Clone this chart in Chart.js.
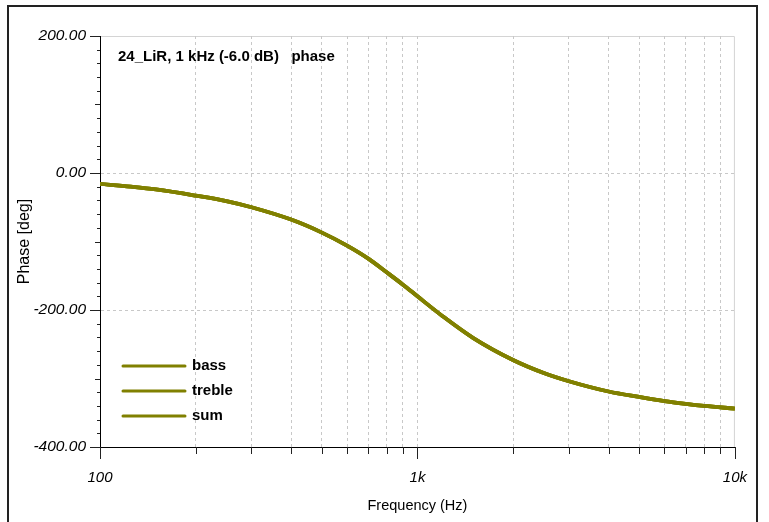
<!DOCTYPE html>
<html>
<head>
<meta charset="utf-8">
<script src="https://cdn.jsdelivr.net/npm/chart.js@4.4.1/dist/chart.umd.min.js"></script>
<style>
  body { margin: 0; background: #fff; }
</style>
</head>
<body>
<canvas id="phase" width="769" height="522"></canvas>
<script>
// frequency points (Hz)
var freq = [100, 125, 150, 200, 250, 300, 400, 500, 600, 700, 800, 900,
            1000, 1200, 1500, 2000, 2500, 3000, 4000, 5000, 6000, 7000, 8000, 10000];

// phase in degrees, the three traces sit on top of each other
var bass   = [-16, -20, -24, -33, -41, -50, -68, -87, -106, -125, -145, -163,
              -180, -209, -241, -273, -292, -304, -319, -327, -333, -337, -340, -344];
var treble = [-16, -20, -24, -33, -41, -50, -68, -87, -106, -125, -145, -163,
              -180, -209, -241, -273, -292, -304, -319, -327, -333, -337, -340, -344];
var sum    = [-16, -20, -24, -33, -41, -50, -68, -87, -106, -125, -145, -163,
              -180, -209, -241, -273, -292, -304, -319, -327, -333, -337, -340, -344];

var seriesNames = ["bass", "treble", "sum"];
var xTicks = [100, 200, 300, 400, 500, 600, 700, 800, 900,
              1000, 2000, 3000, 4000, 5000, 6000, 7000, 8000, 9000, 10000];
var xLabels = { 100: "100", 1000: "1k", 10000: "10k" };
var yMin = -400, yMax = 200, yStep = 20;

var olive = "#808000";
var fontFam = "'Liberation Sans', Arial, sans-serif";

function pts(arr) {
  return freq.map(function (f, i) { return { x: f, y: arr[i] }; });
}

// outer frame + light plot border
var frame = {
  id: "frame",
  beforeDraw: function (chart) {
    var ctx = chart.ctx, a = chart.chartArea;
    ctx.save();
    ctx.fillStyle = "#fff";
    ctx.fillRect(0, 0, chart.width, chart.height);
    ctx.strokeStyle = "#222";
    ctx.lineWidth = 2;
    ctx.strokeRect(8, 6, 749, 540);
    ctx.strokeStyle = "#d4d4d4";
    ctx.lineWidth = 1;
    ctx.beginPath();
    ctx.moveTo(a.left, a.top + 0.5);
    ctx.lineTo(a.right - 0.5, a.top + 0.5);
    ctx.lineTo(a.right - 0.5, a.bottom);
    ctx.stroke();
    ctx.restore();
  }
};

// tick marks, major longer than minor
var tickMarks = {
  id: "tickMarks",
  afterDraw: function (chart) {
    var ctx = chart.ctx, xs = chart.scales.x, ys = chart.scales.y;
    ctx.save();
    ctx.strokeStyle = "#222";
    ctx.lineWidth = 1;
    ctx.beginPath();
    xs.ticks.forEach(function (t) {
      var px = Math.round(xs.getPixelForValue(t.value)) + 0.5;
      var len = xLabels[t.value] ? 12 : 7;
      ctx.moveTo(px, xs.top);
      ctx.lineTo(px, xs.top + len);
    });
    ys.ticks.forEach(function (t) {
      var py = Math.round(ys.getPixelForValue(t.value)) + 0.5;
      var len = t.value % 200 === 0 ? 10 : (t.value % 100 === 0 ? 5 : 3);
      ctx.moveTo(ys.right - len, py);
      ctx.lineTo(ys.right, py);
    });
    ctx.stroke();
    ctx.restore();
  }
};

// caption and legend drawn inside the plot
var inside = {
  id: "inside",
  afterDraw: function (chart) {
    var ctx = chart.ctx, a = chart.chartArea;
    ctx.save();
    ctx.fillStyle = "#000";
    ctx.font = "bold 15px " + fontFam;
    ctx.textBaseline = "middle";
    ctx.fillText("24_LiR, 1 kHz (-6.0 dB)   phase", a.left + 18, a.top + 21);
    chart.data.datasets.forEach(function (ds, i) {
      var y = a.bottom - 31 - (chart.data.datasets.length - 1 - i) * 25;
      ctx.strokeStyle = ds.borderColor;
      ctx.lineWidth = 3;
      ctx.lineCap = "round";
      ctx.beginPath();
      ctx.moveTo(a.left + 23, y);
      ctx.lineTo(a.left + 85, y);
      ctx.stroke();
      ctx.fillText(ds.label, a.left + 92, y);
    });
    ctx.restore();
  }
};

new Chart("phase", {
  type: "line",
  data: {
    datasets: [bass, treble, sum].map(function (arr, i) {
      return {
        label: seriesNames[i],
        data: pts(arr),
        borderColor: olive,
        borderWidth: 3.8,
        pointRadius: 0,
        cubicInterpolationMode: "monotone",
        fill: false
      };
    })
  },
  options: {
    responsive: false,
    animation: false,
    devicePixelRatio: 1,
    layout: { padding: { left: 0, top: 36, right: 31, bottom: 0 } },
    plugins: { legend: { display: false }, tooltip: { enabled: false } },
    scales: {
      x: {
        type: "logarithmic",
        min: 100,
        max: 10000,
        afterBuildTicks: function (s) {
          s.ticks = xTicks.map(function (v) { return { value: v }; });
        },
        afterFit: function (s) { s.height = 75; },
        ticks: {
          autoSkip: false,
          maxRotation: 0,
          padding: 22,
          color: "#000",
          font: { family: fontFam, size: 15, style: "italic" },
          callback: function (v) { return xLabels[v] || ""; }
        },
        grid: {
          drawTicks: false,
          color: function (c) {
            var v = c.tick && c.tick.value;
            return (v === 100 || v === 10000) ? "rgba(0,0,0,0)" : "#c8c8c8";
          }
        },
        border: { display: true, color: "#000", width: 1, dash: [3, 3] },
        title: {
          display: true,
          text: "Frequency (Hz)",
          color: "#000",
          font: { family: fontFam, size: 14.5 },
          padding: { top: 0, bottom: 7 }
        }
      },
      y: {
        type: "linear",
        min: yMin,
        max: yMax,
        afterBuildTicks: function (s) {
          var t = [];
          for (var v = yMin; v <= yMax; v += yStep) t.push({ value: v });
          s.ticks = t;
        },
        afterFit: function (s) { s.width = 100; },
        ticks: {
          autoSkip: false,
          padding: 14,
          color: "#000",
          font: { family: fontFam, size: 15.5, style: "italic" },
          callback: function (v) { return v % 200 === 0 ? v.toFixed(2) : ""; }
        },
        grid: {
          drawTicks: false,
          color: function (c) {
            var v = c.tick && c.tick.value;
            return (v === 0 || v === -200) ? "#c8c8c8" : "rgba(0,0,0,0)";
          }
        },
        border: { display: true, color: "#000", width: 1, dash: [3, 3] },
        title: {
          display: true,
          text: "Phase [deg]",
          color: "#000",
          font: { family: fontFam, size: 16 },
          padding: { top: 15, bottom: 0 }
        }
      }
    }
  },
  plugins: [frame, tickMarks, inside]
});
</script>
</body>
</html>
